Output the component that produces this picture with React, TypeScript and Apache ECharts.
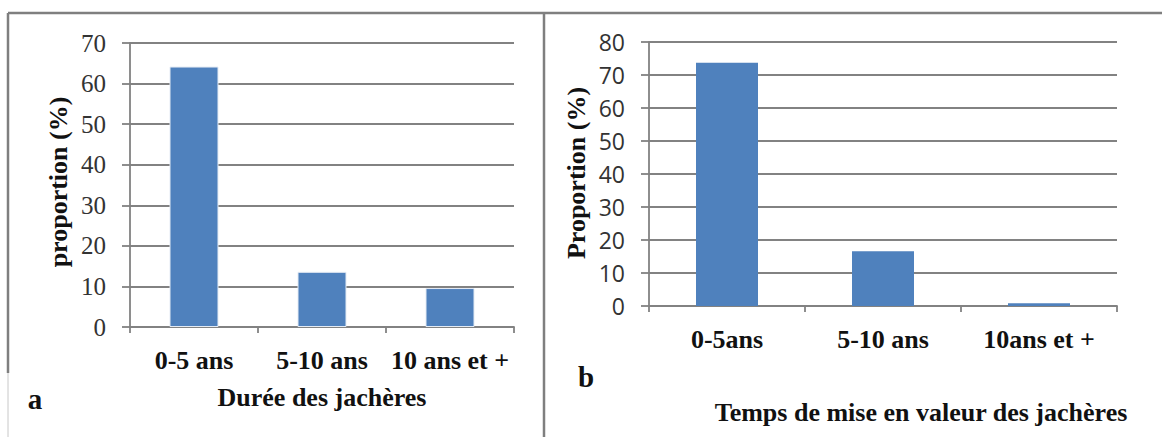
import React, { useEffect, useRef } from "react";
import * as echarts from "echarts";

const categoriesA = ["0-5 ans", "5-10 ans", "10 ans et +"];
const valuesA = [64.2, 13.6, 9.6];
const categoriesB = ["0-5ans", "5-10 ans", "10ans et +"];
const valuesB = [73.7, 16.6, 0.8];
const yMaxA = 70;
const yMaxB = 80;
const yStep = 10;

const SERIF = '"Liberation Serif", "Times New Roman", serif';
const SANS = '"Open Sans", "Noto Sans", sans-serif';
const GRID_COLOR = "#828282";
const BAR_COLOR = "#4F81BD";
const FRAME = "#7f7f7f";

function axisPair(gridIndex: number, cats: string[], max: number, labelMargin: number, yFont: any) {
  const x = {
    type: "category",
    gridIndex,
    data: cats,
    axisLine: { show: true, lineStyle: { color: GRID_COLOR, width: 1.8 } },
    axisTick: { show: true, length: 6, lineStyle: { color: GRID_COLOR, width: 1.8 } },
    axisLabel: {
      interval: 0,
      margin: labelMargin,
      fontFamily: SERIF,
      fontWeight: "bold",
      fontSize: 26,
      color: "#111",
    },
  };
  const y = {
    type: "value",
    gridIndex,
    min: 0,
    max,
    interval: yStep,
    axisLine: { show: true, lineStyle: { color: GRID_COLOR, width: 1.8 } },
    axisTick: { show: true, length: 8, lineStyle: { color: GRID_COLOR, width: 1.8 } },
    splitLine: { show: true, lineStyle: { color: GRID_COLOR, width: 1.8 } },
    axisLabel: { margin: 24, color: "#333", ...yFont },
  };
  return { x, y };
}

export default function App() {
  const ref = useRef<HTMLDivElement>(null);
  useEffect(() => {
    if (!ref.current) return;
    const chart = echarts.init(ref.current, null, { renderer: "svg" });
    const a = axisPair(0, categoriesA, yMaxA, 20, { fontFamily: SERIF, fontSize: 25 });
    const b = axisPair(1, categoriesB, yMaxB, 20, { fontFamily: SANS, fontSize: 23 });
    const boldText = (text: string, x: number, y: number, size: number, rotation = 0) => ({
      type: "text",
      x,
      y,
      rotation,
      style: {
        text,
        font: `bold ${size}px ${SERIF}`,
        fill: "#111",
        align: "center",
        verticalAlign: "middle",
      },
    });
    const line = (x1: number, y1: number, x2: number, y2: number, color: string, width: number) => ({
      type: "line",
      shape: { x1, y1, x2, y2 },
      style: { stroke: color, lineWidth: width },
    });
    chart.setOption({
      animation: false,
      backgroundColor: "#ffffff",
      grid: [
        { left: 130, top: 43, width: 384, height: 284, containLabel: false },
        { left: 649, top: 42, width: 468, height: 264, containLabel: false },
      ],
      xAxis: [a.x, b.x],
      yAxis: [a.y, b.y],
      series: [
        {
          type: "bar",
          xAxisIndex: 0,
          yAxisIndex: 0,
          data: valuesA,
          barWidth: 49,
          itemStyle: { color: BAR_COLOR, borderColor: "#e4ebf4", borderWidth: 1 },
        },
        {
          type: "bar",
          xAxisIndex: 1,
          yAxisIndex: 1,
          data: valuesB,
          barWidth: 62,
          itemStyle: { color: BAR_COLOR },
        },
      ],
      graphic: [
        line(8, 13, 1162, 13, FRAME, 2.5),
        line(8, 13, 8, 373, FRAME, 2.5),
        line(8, 373, 8, 437, "#c8c8c8", 1),
        line(544, 13, 544, 437, FRAME, 2.5),
        boldText("proportion (%)", 58, 182, 26, Math.PI / 2),
        boldText("Durée des jachères", 322, 397, 26),
        boldText("a", 35, 399, 29),
        boldText("Proportion (%)", 576, 173, 26, Math.PI / 2),
        boldText("b", 586, 377, 29),
        boldText("Temps de mise en valeur des jachères", 921, 412, 26),
      ],
    });
    return () => chart.dispose();
  }, []);
  return (
    <div
      ref={ref}
      style={{ position: "absolute", left: 0, top: 0, width: 1162, height: 437, background: "#fff" }}
    />
  );
}
